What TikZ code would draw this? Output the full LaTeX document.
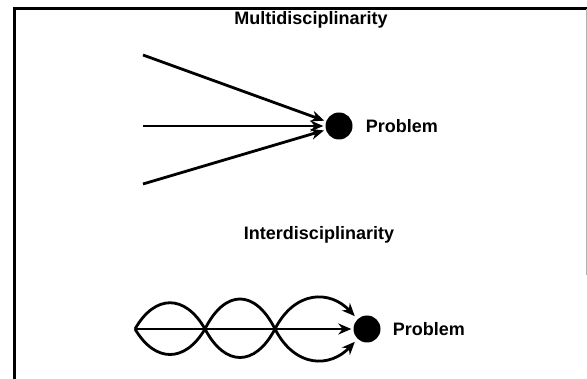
\documentclass[tikz,border=0pt]{standalone}
\usepackage{fontspec}
\setmainfont{Liberation Sans}
\usetikzlibrary{arrows.meta, positioning}

\begin{document}
\begin{tikzpicture}[
    x=1pt, y=-1pt,
    font=\fontsize{18}{20}\selectfont\bfseries,
    bingkai/.style={line width=3pt},
    titik/.style={circle, fill=black, inner sep=0pt, minimum size=27pt},
    teks/.style={inner sep=0pt},
    garis/.style={line width=2.8pt},
    panah/.style={-{Stealth[length=13pt, width=11pt]}, line width=2.8pt, shorten >=2pt}
  ]
    \useasboundingbox (0,0) rectangle (587,379);
    \draw[bingkai] (14,379) -- (14,9) -- (587,9);
    \draw[gray!60, line width=0.8pt] (586,9) -- (586,275);
    % Bagian atas: tiga panah lurus menuju satu titik.
    \node[anchor=base] (judul1) at (311,25) {Multidisciplinarity};
    \node[titik] (masalah1) at (339,126) {};
    \node[teks, right=13pt of masalah1] (teks1) {Problem};
    \coordinate (asal1) at (143,55);
    \coordinate (asal2) at (143,126);
    \coordinate (asal3) at (143,184);
    \foreach \i in {1,2,3} {
      \draw[panah] (asal\i) -- (masalah1);
    }
    \node[anchor=base] (judul2) at (319,240) {Interdisciplinarity};
    \node[titik] (masalah2) at (367,329) {};
    \node[teks, right=12pt of masalah2] (teks2) {Problem};
    \coordinate (awal) at (135,329);
    \coordinate (silang1) at (205,329);
    \coordinate (silang2) at (275,329);
    \draw[panah] (awal) -- (masalah2);
    \draw[garis] (awal) .. controls (155,294) and (185,294) .. (silang1)
      .. controls (225,289) and (255,289) .. (silang2);
    \draw[garis] (awal) .. controls (155,363) and (185,363) .. (silang1)
      .. controls (225,367) and (255,367) .. (silang2);
    \draw[panah, shorten >=4pt] (silang2) .. controls (295,290) and (330,290) .. (masalah2);
    \draw[panah, shorten >=4pt] (silang2) .. controls (295,368) and (330,368) .. (masalah2);
  \end{tikzpicture}
\end{document}
